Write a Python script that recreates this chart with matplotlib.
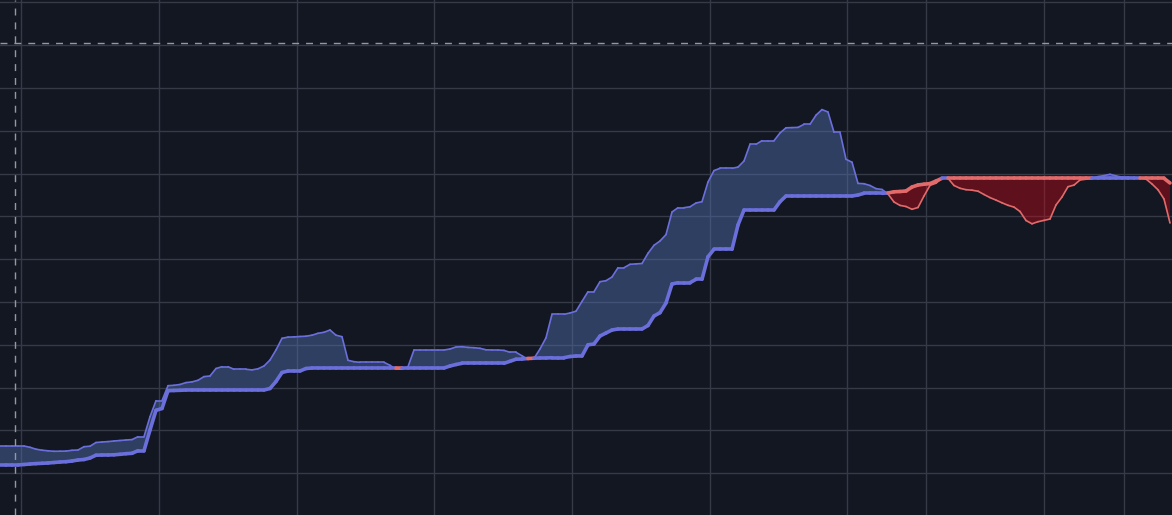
import matplotlib
matplotlib.use("Agg")
import matplotlib.pyplot as plt
import numpy as np
from matplotlib.collections import LineCollection

# %%
# series values, one per bar (arbitrary price units)
base_line = np.array(
    [50, 50, 50, 50, 50.5, 51, 51.4, 51.7, 52, 52.5, 53, 53.3, 54, 55, 55.5, 57,
     59.8, 60, 60, 60.2, 60.7, 61.3, 61.7, 64.3, 64.3, 85, 104.7, 106.5, 124.3,
     124.5, 124.7, 125, 125, 125, 125, 125, 125, 125, 125, 125, 125, 125, 125,
     125, 125, 126.5, 133.5, 142.5, 144, 144, 144, 146.5, 147]
    + [147] * 22
    + [149, 150.5, 151.7]
    + [151.7] * 7
    + [153.7, 155.8, 156, 156.5, 156.8, 157, 157, 157.3, 157.3, 157.3, 158.5, 159,
       159, 170.2, 171, 179, 182, 185, 186, 186, 186, 186, 186, 189.5, 199, 202.3,
       212, 231, 232.3, 232.3, 232.3, 235.7, 235.7, 258.3, 265.7, 265.7, 265.7,
       265.7, 290, 305]
    + [305] * 5
    + [313.3, 319]
    + [319] * 11
    + [320, 321.7, 321.7, 321.7, 321.7, 322, 323.2, 323.5, 324, 328, 330, 330.8,
       331.4, 334]
    + [336.7] * 38
    + [332]
)

lead_line = np.array(
    [69, 69, 69, 69, 69, 67.7, 65.8, 64.8, 64.2, 63.7, 63.8, 63.9, 64.7, 65, 68.3,
     68.8, 72.5, 73, 73.4, 74, 74.5, 75, 75.4, 78.3, 78.3, 98.3, 114.3, 114.3,
     129.3, 129.7, 130.5, 132.4, 133.1, 134.7, 138.4, 139, 146.5, 148.3, 148.3,
     145.7, 145.7, 145.7, 145.1, 146.2, 149, 155, 165, 176.7, 177.9, 178.1, 178.5,
     178.8, 179.8, 181.7, 182.7, 185, 179.8, 178.3, 154.7, 153.3, 152.7, 152.7,
     152.7, 152.7, 152.7, 149.7, 145.7, 145.7, 148.3, 165, 165, 165, 165, 165,
     165, 166, 168, 168.3, 167.6, 167.3, 166.7, 165.2, 165, 165, 164.6, 162.7,
     162.7, 159.2, 155.7, 156.6, 166, 177.2, 200.7, 200.7, 200.7, 202, 203.8,
     213.6, 223.3, 223.3, 233.3, 234.3, 238, 247.3, 247.3, 250.7, 251.1, 251.5,
     261.7, 269.7, 274, 280.4, 303, 307.3, 307.3, 308.2, 312, 313.3, 333, 344.4,
     346.7, 346.7, 346.7, 347.9, 354, 370.7, 370.7, 374.3, 374.3, 374.3, 382,
     387.2, 387.4, 387.6, 390.7, 390.7, 399.8, 405.4, 403, 382.7, 382.7, 355.7,
     352.8, 331.6, 331.3, 329.5, 326.4, 325.5, 321, 313, 309.6, 308.5, 305.7,
     307.5, 319, 329.6, 331.8, 336.7, 336.7, 329.5, 326.7, 325.3, 324.8, 323.8,
     320.5, 317.4, 314.9, 312.2, 309.7, 307.9, 303.5, 294.5, 291.2, 293.3, 294.6,
     296, 310, 318, 328.3, 329.9, 335, 335.8, 336.7, 338.4, 339.4, 340.7, 339.1,
     337.8, 337.6, 337.3, 337, 336, 331, 325.2, 316, 292]
)

bars = np.arange(len(base_line))

# time grid positions (in bars) and crosshair
time_ticks = [3.55, 26.5, 49.42, 72.38, 95.33, 118.25, 141.17, 154.33, 174.08, 187.28]
price_ticks = np.arange(41.9, 515, 42.8)
cross_x, cross_y = 2.55, 471.7

bg = '#131722'
grid_c = '#363a47'
up_c = '#6b6fdc'
dn_c = '#e36a6a'

# %%
fig = plt.figure(figsize=(11.72, 5.15), dpi=100, facecolor=bg)
ax = fig.add_axes([0, 0, 1, 1])
ax.set_facecolor(bg)
ax.set_xlim(0, 1172 / 6)
ax.set_ylim(0, 515)

for t in time_ticks:
    ax.axvline(t, color=grid_c, lw=1, zorder=0)
for p in price_ticks:
    ax.axhline(p, color=grid_c, lw=1, zorder=0)

up = lead_line >= base_line
ax.fill_between(bars, lead_line, base_line, where=up, interpolate=True,
                color='#4f70b0', alpha=0.45, lw=0, zorder=1)
ax.fill_between(bars, lead_line, base_line, where=~up, interpolate=True,
                color='#c80a14', alpha=0.42, lw=0, zorder=1)

# segment colours follow the sign of lead - base
diff = lead_line - base_line
seg_up = (diff[:-1] + diff[1:]) >= 0
seg_cols = [up_c if s else dn_c for s in seg_up]

def segs(y):
    pts = np.column_stack([bars, y])
    return np.stack([pts[:-1], pts[1:]], axis=1)

ax.add_collection(LineCollection(segs(lead_line), colors=seg_cols, lw=1.2,
                                 capstyle='round', zorder=2))
ax.add_collection(LineCollection(segs(base_line), colors=seg_cols, lw=2.6,
                                 capstyle='round', joinstyle='round', zorder=3))

# crosshair
ax.axvline(cross_x, color='#9598a1', lw=1, dashes=(5, 5), zorder=4)
ax.axhline(cross_y, color='#9598a1', lw=1, dashes=(5, 5), zorder=4)

ax.set_axis_off()
plt.savefig('out.png', dpi=100, facecolor=bg)
